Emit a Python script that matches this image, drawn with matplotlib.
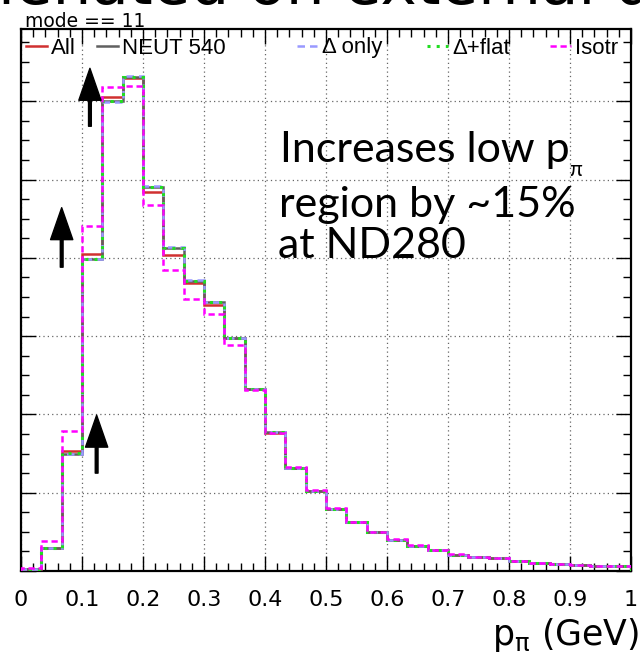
import numpy as np
import matplotlib
matplotlib.use('Agg')
import matplotlib.pyplot as plt
from matplotlib.lines import Line2D
from matplotlib.ticker import MultipleLocator, NullFormatter

# 30 bins of p_pi from 0 to 1 GeV (heights in grid units)
edges = np.linspace(0, 1, 31)
h_all = [0.02, 0.30, 1.53, 4.05, 6.06, 6.29, 4.84, 4.04, 3.68, 3.40,
         2.97, 2.32, 1.76, 1.32, 1.02, 0.79, 0.62, 0.50, 0.40, 0.32,
         0.27, 0.21, 0.18, 0.16, 0.125, 0.105, 0.09, 0.08, 0.07, 0.06]
h_neut = [0.02, 0.29, 1.50, 3.99, 6.00, 6.31, 4.91, 4.13, 3.71, 3.43,
          2.98, 2.33, 1.77, 1.32, 1.02, 0.79, 0.62, 0.50, 0.40, 0.32,
          0.27, 0.21, 0.18, 0.16, 0.125, 0.105, 0.09, 0.08, 0.07, 0.06]
h_delta = [0.02, 0.29, 1.50, 3.98, 5.99, 6.32, 4.92, 4.14, 3.72, 3.43,
           2.98, 2.33, 1.77, 1.32, 1.02, 0.79, 0.62, 0.50, 0.40, 0.32,
           0.27, 0.21, 0.18, 0.16, 0.125, 0.105, 0.09, 0.08, 0.07, 0.06]
h_flat = [0.02, 0.29, 1.51, 3.99, 6.00, 6.31, 4.91, 4.13, 3.71, 3.43,
          2.98, 2.33, 1.77, 1.32, 1.02, 0.79, 0.62, 0.50, 0.40, 0.32,
          0.27, 0.21, 0.18, 0.16, 0.125, 0.105, 0.09, 0.08, 0.07, 0.06]
h_isotr = [0.04, 0.38, 1.79, 4.40, 6.18, 6.19, 4.67, 3.85, 3.47, 3.28,
           2.89, 2.31, 1.76, 1.33, 1.03, 0.80, 0.63, 0.50, 0.41, 0.33,
           0.27, 0.22, 0.18, 0.16, 0.13, 0.105, 0.09, 0.08, 0.07, 0.06]

labels = ['All', 'NEUT 540', '\u0394 only', '\u0394+flat', 'Isotr']
xticks = [0, 0.1, 0.2, 0.3, 0.4, 0.5, 0.6, 0.7, 0.8, 0.9, 1]
xticklabels = ['0', '0.1', '0.2', '0.3', '0.4', '0.5', '0.6', '0.7', '0.8', '0.9', '1']

# arrows: (x, y_tail, y_head)
arrows = [(0.113, 5.68, 6.42), (0.0667, 3.88, 4.64), (0.124, 1.25, 1.99)]

fig = plt.figure(figsize=(6.4, 6.55), dpi=100)
ax = fig.add_axes([21/640, (655-571)/655, 610/640, (571-29.3)/655])

styles = [
    dict(color='#d03030', ls='-', lw=1.8),
    dict(color='#606060', ls='-', lw=1.8),
    dict(color='#9999ff', ls=(0, (3, 2)), lw=1.8),
    dict(color='#22dd22', ls=(0, (1, 2)), lw=2.2),
    dict(color='#ff00ff', ls=(0, (2.5, 1.5)), lw=1.8),
]
for h, st in zip([h_all, h_neut, h_delta, h_flat, h_isotr], styles):
    ax.stairs(h, edges, **st, zorder=3)

ax.set_xlim(0, 1)
ax.set_ylim(0, (571-29.3)/78.3)
ax.set_xticks(xticks)
ax.set_xticklabels(xticklabels, fontsize=16, family='DejaVu Sans')
ax.xaxis.set_minor_locator(MultipleLocator(0.02))
ax.yaxis.set_major_locator(MultipleLocator(1))
ax.yaxis.set_minor_locator(MultipleLocator(0.25))
ax.yaxis.set_major_formatter(NullFormatter())
ax.tick_params(which='both', direction='in', top=True, right=True, width=1.0)
ax.tick_params(which='major', length=11)
ax.tick_params(which='minor', length=5.5)
ax.tick_params(axis='x', pad=14)
ax.tick_params(axis='y', labelleft=False)
for s in ax.spines.values():
    s.set_linewidth(1.6)
ax.grid(True, which='major', ls=(0, (1, 2.5)), color='#666666', lw=0.9, zorder=1)

# legend entries, each placed on its own
leg_x = [0.008, 0.124, 0.452, 0.666, 0.867]
leg_y = (571-48)/(571-29.3)
legs = []
for lab, st, lx in zip(labels, styles, leg_x):
    hnd = Line2D([], [], **st)
    lg = ax.legend([hnd], [lab], loc='center left', bbox_to_anchor=(lx, leg_y),
                   frameon=False, borderpad=0, borderaxespad=0, handlelength=0.95,
                   handletextpad=0.2, prop={'family': 'Liberation Sans', 'size': 16})
    legs.append(lg)
for lg in legs[:-1]:
    ax.add_artist(lg)

for x, y0, y1 in arrows:
    ax.annotate('', xy=(x, y1), xytext=(x, y0),
                arrowprops=dict(facecolor='black', edgecolor='black', width=2,
                                headwidth=16, headlength=23, shrink=0), zorder=5)

# annotation text
tf = dict(family='Lato', fontsize=31, color='black', va='baseline', ha='left')
fig.text(280/640, (655-161.7)/655, 'Increases low p', **tf)
fig.text(569/640, (655-176)/655, '\u03c0', family='Lato', fontsize=15, va='baseline', ha='left')
fig.text(279/640, (655-217)/655, 'region by ~15%', **tf)
fig.text(278/640, (655-258.3)/655, 'at ND280', **tf)

fig.text(25/640, (655-26.7)/655, 'mode == 11', family='DejaVu Sans', fontsize=13.5,
         va='baseline', ha='left')
fig.text(639/640, (655-645)/655, r'p$_{\mathrm{\pi}}$ (GeV)', family='DejaVu Sans',
         fontsize=25, va='baseline', ha='right')

# cropped slide title at the very top
fig.text(-2/640, (655-4)/655, 'ienated on external da', family='DejaVu Sans',
         fontsize=44, va='baseline', ha='left')

fig.savefig('out.png', dpi=100)
